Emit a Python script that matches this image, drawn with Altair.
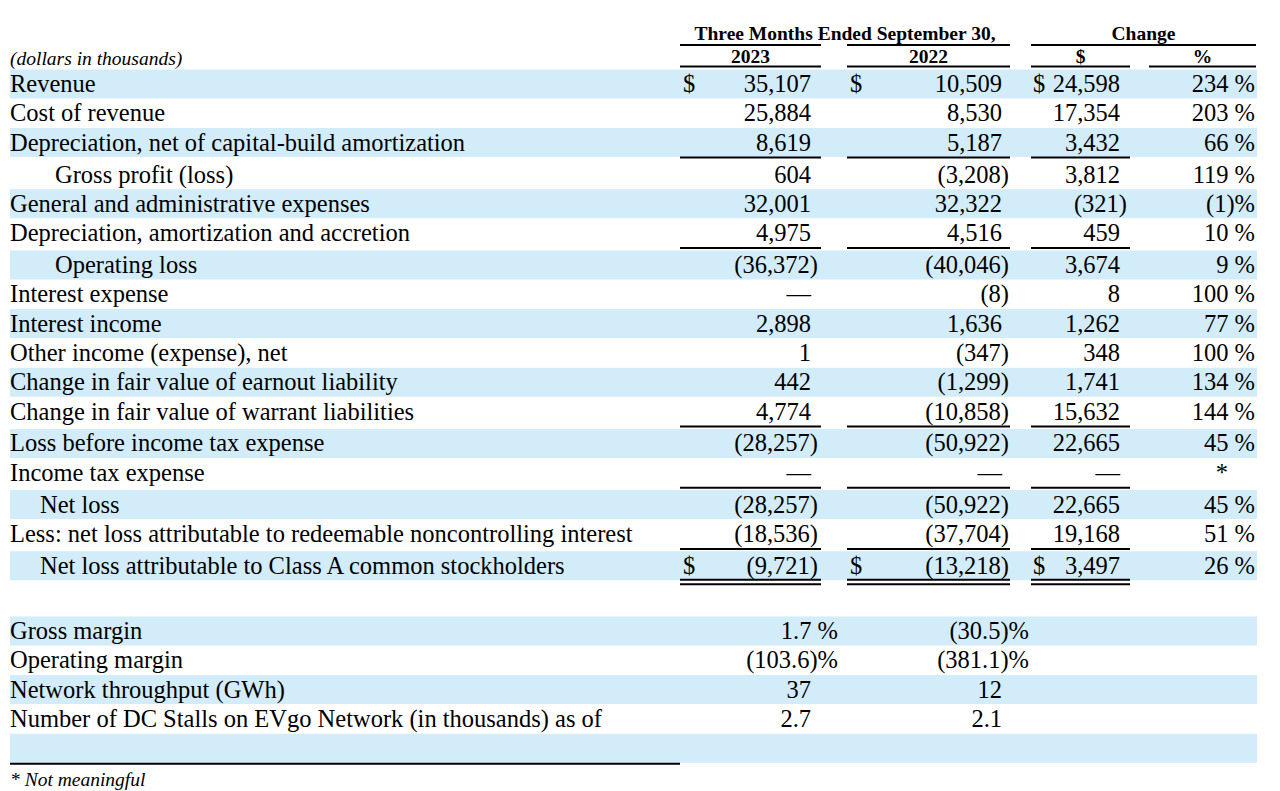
import altair as alt
import pandas as pd

# ---------------- data ----------------
row_labels = [
    "Revenue",
    "Cost of revenue",
    "Depreciation, net of capital-build amortization",
    "Gross profit (loss)",
    "General and administrative expenses",
    "Depreciation, amortization and accretion",
    "Operating loss",
    "Interest expense",
    "Interest income",
    "Other income (expense), net",
    "Change in fair value of earnout liability",
    "Change in fair value of warrant liabilities",
    "Loss before income tax expense",
    "Income tax expense",
    "Net loss",
    "Less: net loss attributable to redeemable noncontrolling interest",
    "Net loss attributable to Class A common stockholders",
]
indent_level = [0, 0, 0, 2, 0, 0, 2, 0, 0, 0, 0, 0, 0, 0, 1, 0, 1]
q3_2023 = [35107, 25884, 8619, 604, 32001, 4975, -36372, 0, 2898, 1, 442, 4774,
           -28257, 0, -28257, -18536, -9721]
q3_2022 = [10509, 8530, 5187, -3208, 32322, 4516, -40046, -8, 1636, -347, -1299,
           -10858, -50922, 0, -50922, -37704, -13218]
change_usd = [24598, 17354, 3432, 3812, -321, 459, 3674, 8, 1262, 348, 1741, 15632,
              22665, 0, 22665, 19168, 3497]
change_pct = [234, 203, 66, 119, -1, 10, 9, 100, 77, 100, 134, 144, 45, None, 45, 51, 26]
dollar_rows = [0, 16]
single_rule_after = [2, 5, 11, 13, 15]
double_rule_after = [16]

metric_labels = [
    "Gross margin",
    "Operating margin",
    "Network throughput (GWh)",
    "Number of DC Stalls on EVgo Network (in thousands) as of",
]
metric_is_pct = [True, True, False, False]
metric_2023 = [1.7, -103.6, 37, 2.7]
metric_2022 = [-30.5, -381.1, 12, 2.1]

header_group = ["Three Months Ended September 30,", "Change"]
header_cols = ["2023", "2022", "$", "%"]
units_note = "(dollars in thousands)"
footnote = "* Not meaningful"

# ---------------- layout ----------------
W, H = 1264, 783
FONT = "Liberation Serif"
BODY = 24.5
SMALL = 19.5
BAND = "#D3ECFA"

ROW0, STEP, EXTRA = 84.0, 29.3, 2.6
MET0, MSTEP = 631.0, 29.3
BAND_HALF = 14.5
TEXT_DY = 1


def row_y(i):
    n_rules = sum(1 for r in single_rule_after if r < i)
    return ROW0 + STEP * i + EXTRA * n_rules


def met_y(j):
    return MET0 + MSTEP * j


label_x = {0: 10, 1: 40, 2: 55}
cols = [  # number right edge, "$" left, underline span
    dict(num=811, dollar=683, lo=680, hi=821),
    dict(num=1002, dollar=850, lo=847, hi=1010),
    dict(num=1120, dollar=1033, lo=1031, hi=1130),
    dict(num=1228, dollar=None, lo=1149, hi=1256),
]
BAND_LO, BAND_HI = 10, 1257


def fmt_amount(v):
    if v == 0:
        return "\u2014"
    s = f"{abs(v):,}"
    return f"({s})" if v < 0 else s


def fmt_pct(p):
    if p is None:
        return "*"
    return f"({abs(p)})%" if p < 0 else f"{p} %"


def fmt_metric(v, is_pct):
    if is_pct:
        return f"({abs(v):.1f})%" if v < 0 else f"{v:.1f} %"
    return f"{v:g}"


def hang(s):
    if s.endswith("%"):
        return 27
    if s.endswith(")"):
        return 7
    return 0


xs = alt.Scale(domain=[8, 8 + W], nice=False, zero=False)
ys = alt.Scale(domain=[8, 8 + H], nice=False, zero=False, reverse=True)
X = lambda f="x": alt.X(f"{f}:Q", scale=xs, axis=None)
Y = lambda f="y": alt.Y(f"{f}:Q", scale=ys, axis=None)

# bands
band_y = [row_y(i) for i in range(len(row_labels)) if i % 2 == 0]
band_y += [met_y(j) for j in range(len(metric_labels) + 1) if j % 2 == 0]
bands = pd.DataFrame({
    "x": BAND_LO, "x2": BAND_HI,
    "y": [c - BAND_HALF for c in band_y], "y2": [c + BAND_HALF for c in band_y],
})
band_layer = alt.Chart(bands).mark_rect(color=BAND).encode(
    x=X(), x2="x2:Q", y=Y(), y2="y2:Q")

# rules
rules = []
for c in cols[:2]:
    rules.append((c["lo"], c["hi"], 45))
rules.append((cols[2]["lo"], cols[3]["hi"], 45))
for c in cols:
    rules.append((c["lo"], c["hi"], 66.5))
for r in single_rule_after:
    for c in cols[:3]:
        rules.append((c["lo"], c["hi"], row_y(r) + 15))
for r in double_rule_after:
    for c in cols[:3]:
        rules.append((c["lo"], c["hi"], row_y(r) + 14))
        rules.append((c["lo"], c["hi"], row_y(r) + 18.5))
rules.append((10, 680, met_y(4) + 15.5))
rule_df = pd.DataFrame(rules, columns=["x", "x2", "y"])
rule_layer = alt.Chart(rule_df).mark_rule(color="black", strokeWidth=2).encode(
    x=X(), x2="x2:Q", y=Y())

# labels
lab = [(label_x[indent_level[i]], row_y(i), t) for i, t in enumerate(row_labels)]
lab += [(10, met_y(j), t) for j, t in enumerate(metric_labels)]
lab_df = pd.DataFrame(lab, columns=["x", "y", "t"])
label_layer = alt.Chart(lab_df).mark_text(
    align="left", baseline="middle", font=FONT, fontSize=BODY, color="black", dy=TEXT_DY
).encode(x=X(), y=Y(), text="t:N")

# numbers
nums = []
for i in range(len(row_labels)):
    cells = [fmt_amount(q3_2023[i]), fmt_amount(q3_2022[i]),
             fmt_amount(change_usd[i]), fmt_pct(change_pct[i])]
    for c, s in zip(cols, cells):
        nums.append((c["num"] + hang(s), row_y(i), s))
for j in range(len(metric_labels)):
    for c, v in zip(cols[:2], [metric_2023[j], metric_2022[j]]):
        s = fmt_metric(v, metric_is_pct[j])
        nums.append((c["num"] + hang(s), met_y(j), s))
num_df = pd.DataFrame(nums, columns=["x", "y", "t"])
num_layer = alt.Chart(num_df).mark_text(
    align="right", baseline="middle", font=FONT, fontSize=BODY, color="black", dy=TEXT_DY
).encode(x=X(), y=Y(), text="t:N")

dol = []
for r in dollar_rows:
    for c in cols[:3]:
        dol.append((c["dollar"], row_y(r), "$"))
dol_df = pd.DataFrame(dol, columns=["x", "y", "t"])
dol_layer = alt.Chart(dol_df).mark_text(
    align="left", baseline="middle", font=FONT, fontSize=BODY, color="black", dy=TEXT_DY
).encode(x=X(), y=Y(), text="t:N")

# headers
hdr = [((cols[0]["lo"] + cols[1]["hi"]) / 2, 34, header_group[0]),
       ((cols[2]["lo"] + cols[3]["hi"]) / 2, 34, header_group[1])]
for c, t in zip(cols, header_cols):
    hdr.append(((c["lo"] + c["hi"]) / 2, 57, t))
hdr_df = pd.DataFrame(hdr, columns=["x", "y", "t"])
hdr_layer = alt.Chart(hdr_df).mark_text(
    align="center", baseline="middle", font=FONT, fontSize=SMALL,
    fontWeight="bold", color="black"
).encode(x=X(), y=Y(), text="t:N")

ital_df = pd.DataFrame([(10, 59, units_note), (10, 780, footnote)],
                       columns=["x", "y", "t"])
ital_layer = alt.Chart(ital_df).mark_text(
    align="left", baseline="middle", font=FONT, fontSize=SMALL,
    fontStyle="italic", color="black"
).encode(x=X(), y=Y(), text="t:N")

chart = alt.layer(
    band_layer, rule_layer, label_layer, num_layer, dol_layer, hdr_layer, ital_layer
).properties(
    width=W, height=H, padding=0, autosize=alt.AutoSizeParams(type="none"),
    background="white",
).configure_view(stroke=None)

chart.save("out.html", embed_options={"renderer": "svg", "actions": False})
